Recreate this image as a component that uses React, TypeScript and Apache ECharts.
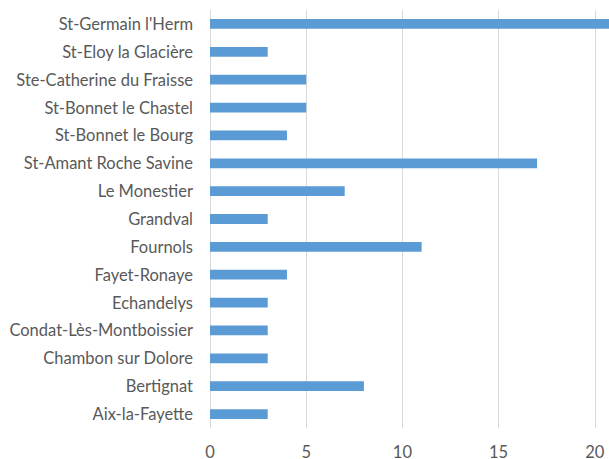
import React, { useEffect, useRef } from "react";
import * as echarts from "echarts";

const categories = [
  "Aix-la-Fayette",
  "Bertignat",
  "Chambon sur Dolore",
  "Condat-Lès-Montboissier",
  "Echandelys",
  "Fayet-Ronaye",
  "Fournols",
  "Grandval",
  "Le Monestier",
  "St-Amant Roche Savine",
  "St-Bonnet le Bourg",
  "St-Bonnet le Chastel",
  "Ste-Catherine du Fraisse",
  "St-Eloy la Glacière",
  "St-Germain l'Herm",
];
const values = [3, 8, 3, 3, 3, 4, 11, 3, 7, 17, 4, 5, 5, 3, 21];
const xTicks = { min: 0, max: 25, interval: 5 };

export default function App() {
  const ref = useRef<HTMLDivElement>(null);
  useEffect(() => {
    const chart = echarts.init(ref.current!, undefined, { renderer: "svg" });
    chart.setOption({
      animation: false,
      textStyle: { fontFamily: "Lato" },
      grid: {
        left: 210,
        top: 10,
        right: 9,
        bottom: 31,
        containLabel: false,
        outerBoundsMode: "none",
      },
      xAxis: {
        type: "value",
        min: xTicks.min,
        max: xTicks.max,
        interval: xTicks.interval,
        axisLine: { show: false },
        axisTick: { show: false },
        splitLine: { show: true, lineStyle: { color: "#D9D9D9", width: 1 } },
        axisLabel: { color: "#595959", fontSize: 16.5, fontFamily: "Lato", margin: 15 },
      },
      yAxis: {
        type: "category",
        data: categories,
        axisLine: { show: true, lineStyle: { color: "#D9D9D9", width: 1 } },
        axisTick: { show: false },
        axisLabel: { color: "#595959", fontSize: 16.5, fontFamily: "Lato", margin: 17 },
      },
      series: [
        {
          type: "bar",
          data: values,
          barWidth: "35%",
          itemStyle: { color: "#5B9BD5" },
        },
      ],
      graphic: [
        {
          type: "polygon",
          left: -9,
          top: 452,
          shape: { points: [[0, 0], [4, 7], [0, 7]] },
          style: { fill: "#E5B800" },
        },
      ],
    });
    return () => chart.dispose();
  }, []);
  return (
    <div style={{ position: "fixed", left: 0, top: 0, width: 609, height: 459, overflow: "hidden", background: "#fff" }}>
      <div ref={ref} style={{ width: 700, height: 459 }} />
    </div>
  );
}
